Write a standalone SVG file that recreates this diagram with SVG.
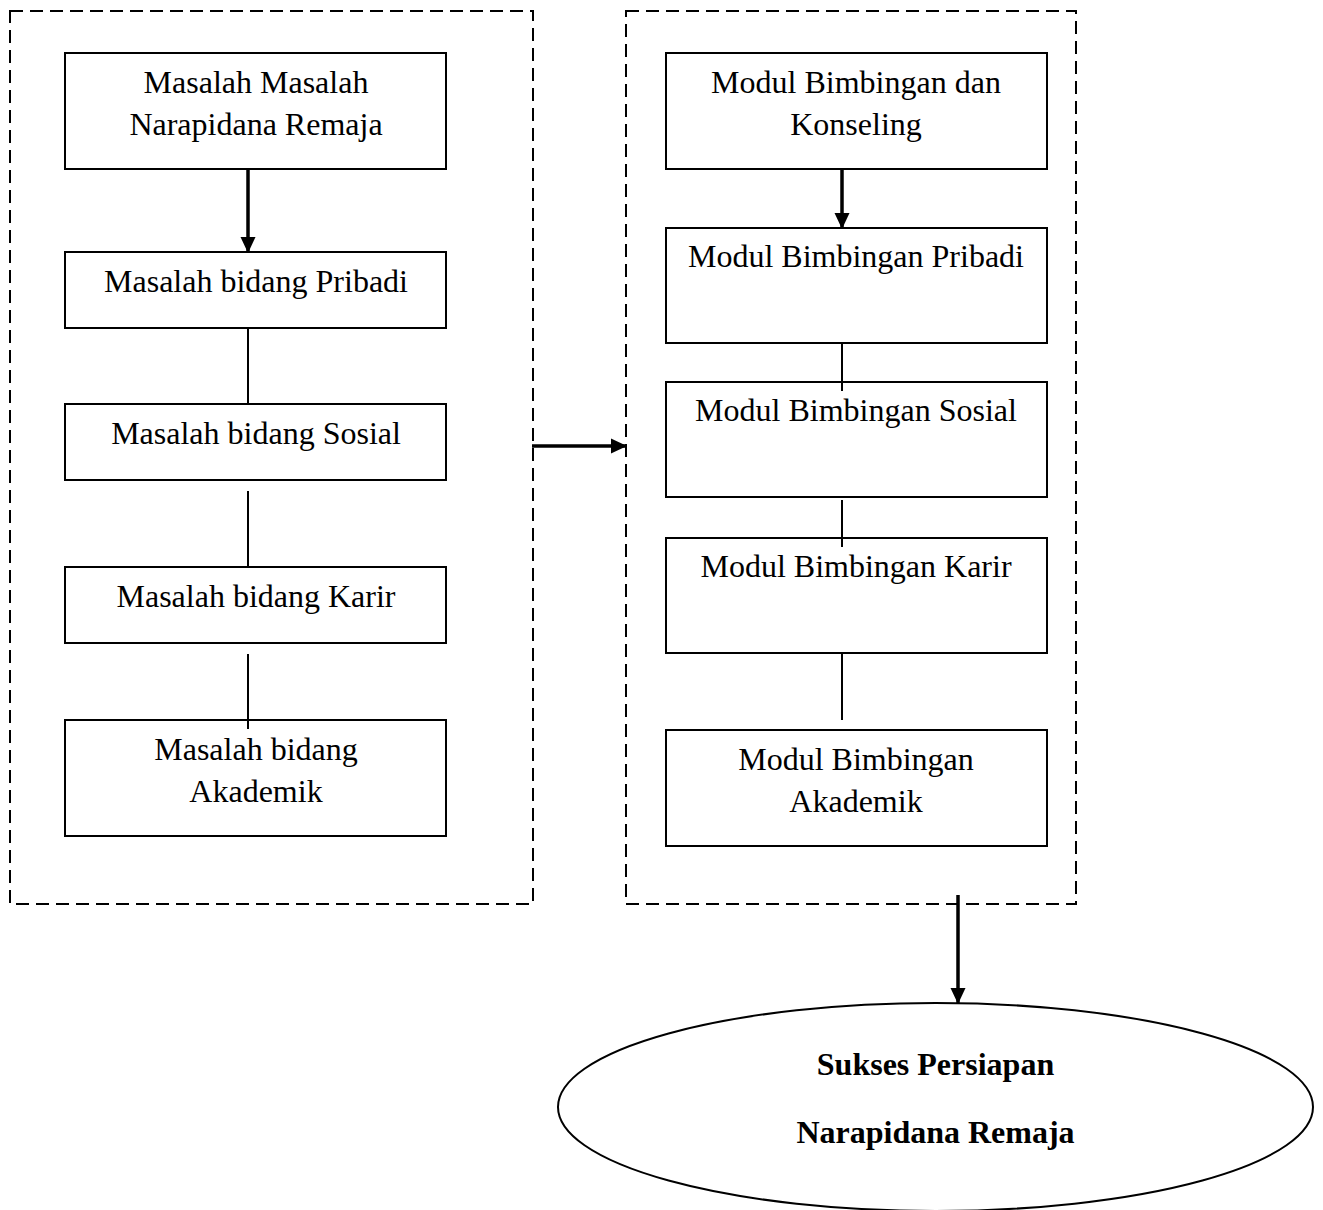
<svg xmlns="http://www.w3.org/2000/svg" width="1323" height="1210" viewBox="0 0 1323 1210">
<defs>
<style>
.box{fill:#fff;stroke:#000;stroke-width:2}
.frame{fill:none;stroke:#000;stroke-width:2;stroke-dasharray:13 7}
.t{font-family:"Liberation Serif","Times New Roman",serif;font-size:32px;fill:#000;text-anchor:middle}
.b{font-weight:bold}
.ln{stroke:#000;stroke-width:2;fill:none}
.ar{stroke:#000;stroke-width:3.5;fill:none}
</style>
<marker id="ah" viewBox="0 0 16 16" refX="15" refY="8" markerWidth="16" markerHeight="16" markerUnits="userSpaceOnUse" orient="auto">
<path d="M0,0.5 L16,8 L0,15.5 Z" fill="#000"/>
</marker>
</defs>
<rect width="1323" height="1210" fill="#fff"/>
<g id="frame-left"><rect class="frame" x="10" y="11" width="523" height="893"/></g>
<g id="frame-right"><rect class="frame" x="626" y="11" width="450" height="893"/></g>
<g id="n1"><rect class="box" x="65" y="53" width="381" height="116"/><text class="t" x="256" y="93">Masalah Masalah</text><text class="t" x="256" y="135">Narapidana Remaja</text></g>
<g id="n2"><rect class="box" x="65" y="252" width="381" height="76"/><text class="t" x="256" y="292">Masalah bidang Pribadi</text></g>
<g id="n3"><rect class="box" x="65" y="404" width="381" height="76"/><text class="t" x="256" y="444">Masalah bidang Sosial</text></g>
<g id="n4"><rect class="box" x="65" y="567" width="381" height="76"/><text class="t" x="256" y="607">Masalah bidang Karir</text></g>
<g id="n5"><rect class="box" x="65" y="720" width="381" height="116"/><text class="t" x="256" y="760">Masalah bidang</text><text class="t" x="256" y="802">Akademik</text></g>
<g id="m1"><rect class="box" x="666" y="53" width="381" height="116"/><text class="t" x="856" y="93">Modul Bimbingan dan</text><text class="t" x="856" y="135">Konseling</text></g>
<g id="m2"><rect class="box" x="666" y="228" width="381" height="115"/><text class="t" x="856" y="267">Modul Bimbingan Pribadi</text></g>
<g id="m3"><rect class="box" x="666" y="382" width="381" height="115"/><text class="t" x="856" y="421">Modul Bimbingan Sosial</text></g>
<g id="m4"><rect class="box" x="666" y="538" width="381" height="115"/><text class="t" x="856" y="577">Modul Bimbingan Karir</text></g>
<g id="m5"><rect class="box" x="666" y="730" width="381" height="116"/><text class="t" x="856" y="770">Modul Bimbingan</text><text class="t" x="856" y="812">Akademik</text></g>
<g id="result"><ellipse cx="935.5" cy="1107" rx="377.5" ry="104" fill="#fff" stroke="#000" stroke-width="2"/><text class="t b" x="935.5" y="1075">Sukses Persiapan</text><text class="t b" x="935.5" y="1143">Narapidana Remaja</text></g>
<g id="connectors">
<line class="ar" x1="248" y1="169" x2="248" y2="252" marker-end="url(#ah)"/>
<line class="ln" x1="248" y1="328" x2="248" y2="404"/>
<line class="ln" x1="248" y1="491" x2="248" y2="567"/>
<line class="ln" x1="248" y1="654" x2="248" y2="729"/>
<line class="ar" x1="842" y1="169" x2="842" y2="228" marker-end="url(#ah)"/>
<line class="ln" x1="842" y1="343" x2="842" y2="391"/>
<line class="ln" x1="842" y1="500" x2="842" y2="547"/>
<line class="ln" x1="842" y1="653" x2="842" y2="720"/>
<line class="ar" x1="532" y1="446" x2="626" y2="446" marker-end="url(#ah)"/>
<line class="ar" x1="958" y1="895" x2="958" y2="1003" marker-end="url(#ah)"/>
</g>
</svg>
